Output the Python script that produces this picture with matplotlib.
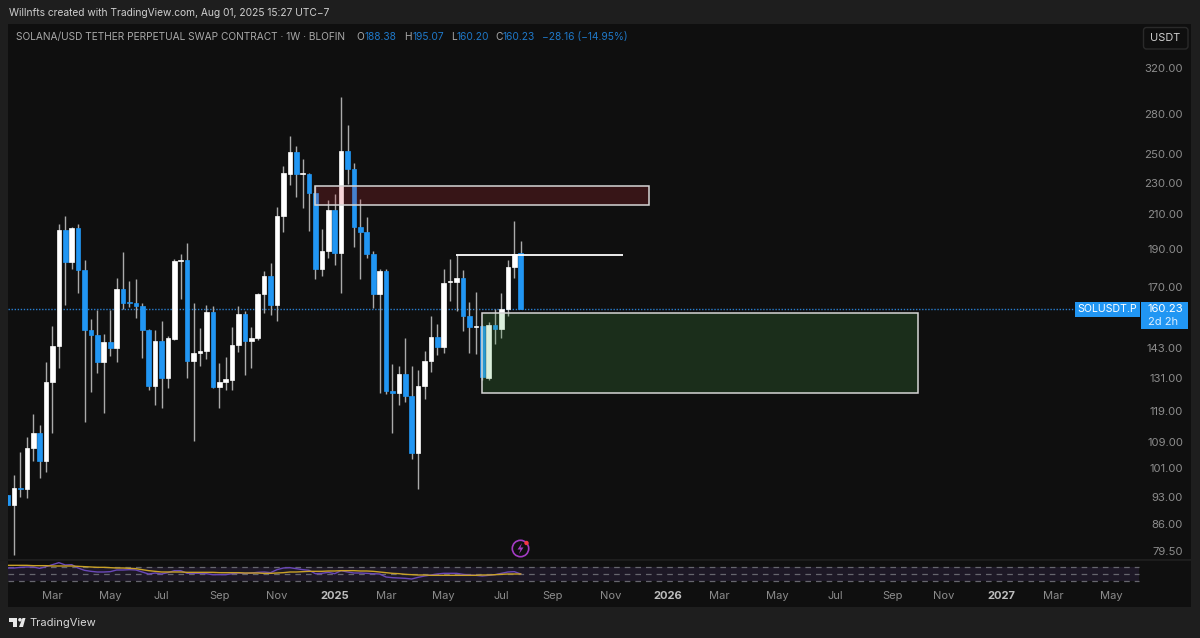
import numpy as np
import matplotlib
matplotlib.use("Agg")
import matplotlib.pyplot as plt
from matplotlib.patches import Rectangle, FancyBboxPatch, Circle, Polygon

plt.rcParams['font.family'] = ['Inter', 'DejaVu Sans']

# weekly candles
opens = [93.7,91.1,95.8,95.5,107.4,112.1,103.4,130.0,144.2,201.4,183.5,202.2,179.3,151.0,148.5,137.7,145.6,143.2,169.6,163.5,162.9,161.8,151.0,128.3,146.3,131.3,147.1,184.2,184.4,138.1,141.0,142.1,158.7,128.1,130.0,130.8,144.4,158.1,146.0,147.4,167.3,176.2,162.1,209.5,236.4,251.9,236.2,236.4,224.1,180.0,189.6,213.1,188.1,252.4,239.9,203.1,200.0,187.8,167.6,178.6,126.5,125.9,132.9,124.7,105.9,128.3,137.9,148.0,143.8,173.0,173.0,175.5,157.3,152.1,152.7,131.5,153.0,151.5,160.5,181.0,188.38]
closes = [91.1,95.8,95.5,107.4,112.1,103.4,130.0,144.2,201.4,183.5,202.4,179.3,151.0,148.5,137.7,145.6,143.2,169.6,163.0,162.9,161.5,151.0,128.3,146.3,131.3,147.4,184.0,184.5,138.1,141.2,142.1,158.7,128.2,130.0,131.1,144.4,158.1,146.0,147.4,167.3,176.2,162.1,209.5,236.9,251.9,236.4,236.9,224.1,180.0,189.6,213.1,188.1,252.4,239.9,203.1,200.0,187.8,167.6,178.6,126.4,125.9,132.9,124.7,105.9,128.3,137.9,148.0,143.8,172.9,173.5,175.5,157.3,152.1,152.7,131.6,153.0,151.5,160.5,181.0,187.9,160.23]
highs = [93.7,99.3,106.2,110.7,118.6,114.7,137.7,152.6,204.7,209.7,203.1,204.5,184.5,155.8,159.8,149.0,159.8,175.5,188.7,173.7,175.0,162.9,151.5,151.0,154.8,148.2,185.1,187.8,193.6,163.3,151.8,162.1,161.6,137.3,139.7,152.3,161.6,159.5,152.1,167.8,178.9,182.9,215.0,242.0,263.8,256.3,246.6,237.1,228.4,201.6,219.4,223.0,295.2,272.3,244.3,219.8,208.9,189.2,179.8,179.6,136.6,136.0,147.4,136.2,134.3,142.0,156.9,153.7,180.0,184.9,187.2,179.1,163.5,168.3,153.0,154.6,160.1,168.0,184.5,206.3,195.07]
lows = [91.1,78.9,93.3,93.1,103.4,98.5,100.3,112.0,135.4,162.2,179.6,168.0,115.6,126.3,133.4,118.9,139.9,137.7,160.5,161.0,156.4,139.3,127.0,121.6,120.6,127.5,146.5,165.1,131.2,109.5,136.0,138.6,127.5,120.5,126.8,127.0,141.7,132.6,135.3,146.5,158.5,157.5,154.8,200.2,228.8,221.5,214.6,200.6,174.9,176.1,185.8,181.9,168.0,229.5,191.8,174.9,185.8,160.9,125.7,125.4,112.2,121.7,122.7,103.9,95.3,123.5,133.8,140.2,141.3,163.8,159.5,150.5,141.3,140.6,130.6,130.6,144.7,147.5,157.0,175.4,160.20]

rsi = [68,68,70,71,71,67,72,78,84,77,78,68,61,58,56,56,57,62,62,63,62,56,50,53,50,54,60,60,52,52,52,51,48,48,48,51,53,52,53,55,56,54,63,68,69,66,63,61,51,52,55,51,60,56,53,53,52,51,50,41,39,38,37,35,40,44,47,50,52,52,52,49,47,46,44,46,48,52,56,57,50]
rsi_ma = [76,76,76,76,75,75,75,74,74,74,74,73,72,71,70,70,69,68,68,67,66,63,60,58,56,56,56,56,55,55,55,55,55,54,54,54,54,53,53,53,52,52,53,54,56,56,57,58,58,58,59,59,60,60,60,59,59,58,56,54,52,51,49,48,47,47,46,46,46,46,46,46,46,46,47,47,48,49,50,50,50]

price_ticks = [320, 280, 250, 230, 210, 190, 170, 143, 131, 119, 109, 101, 93, 86, 79.5]
last_price = 160.23

# (bar index, label) for the time axis
month_bars = [7, 16, 24, 33, 42, 51, 59, 68, 77, 85, 94, 103, 111, 120, 129, 138, 146, 155, 163, 172]
month_labels = ['Mar', 'May', 'Jul', 'Sep', 'Nov', '2025', 'Mar', 'May', 'Jul', 'Sep', 'Nov', '2026', 'Mar', 'May', 'Jul', 'Sep', 'Nov', '2027', 'Mar', 'May']

# drawn zones: bar from, bar to, price low, price high
supply_zone = (47.93, 100.0, 216.2, 228.4)
demand_zone = (73.97, 141.9, 125.8, 158.6)
level_line = (69.9, 95.95, 187.5)

W, H = 1200, 638
BG = '#1e1e1e'
PANEL = '#0f0f0f'
BLUE = '#2196f3'
GREY = '#8c8c8c'

fig = plt.figure(figsize=(W / 100, H / 100), dpi=100, facecolor=BG)


def pixel_axes(left, top, right, bottom):
    return fig.add_axes([left / W, 1 - bottom / H, (right - left) / W, (bottom - top) / H])


# x limits shared by both panes
bar_lim = (0.0645, 184.5)

ax = pixel_axes(8, 24, 1191, 559)
ax.set_facecolor(PANEL)
ax.set_yscale('log')
ax.set_xlim(*bar_lim)
ax.set_ylim(78.0, 364.3)
for s in ax.spines.values():
    s.set_visible(False)
ax.set_xticks([])
ax.set_yticks([])
ax.minorticks_off()

bars = np.arange(len(opens))
opens = np.array(opens)
closes = np.array(closes)
is_up = closes >= opens
colors = np.where(is_up, 'white', BLUE)
ax.vlines(bars, lows, highs, color='#aaaaaa', lw=1.0, zorder=2)
ax.bar(bars, np.abs(closes - opens), bottom=np.minimum(opens, closes), width=0.72,
       color=colors, edgecolor=colors, linewidth=0.5, zorder=3)

ax.axhline(last_price, xmax=(1074 - 8) / (1191 - 8), color='#2a7fd0', lw=1.0, ls=(0, (1, 1.2)), zorder=1)

for zone, fill in ((supply_zone, '#d8303c'), (demand_zone, '#4caf50')):
    x0, x1, p0, p1 = zone
    ax.add_patch(Rectangle((x0, p0), x1 - x0, p1 - p0, facecolor=fill, alpha=0.2, edgecolor='none', zorder=4))
    ax.add_patch(Rectangle((x0, p0), x1 - x0, p1 - p0, facecolor='none', edgecolor='#d6d6d6', lw=1.1, zorder=5))
ax.plot(level_line[:2], [level_line[2]] * 2, color='white', lw=1.3, zorder=5, solid_capstyle='butt')

# RSI pane
ax2 = pixel_axes(8, 561, 1191, 607)
ax2.set_facecolor(PANEL)
ax2.set_xlim(*bar_lim)
ax2.set_ylim(-49, 89)
for s in ax2.spines.values():
    s.set_visible(False)
ax2.set_yticks([])
ax2.set_xticks([])
band_end = 1 + (1139 - 14) / 6.414
ax2.fill_between([bar_lim[0], band_end], 30, 70, color='#7e57c2', alpha=0.13, lw=0)
for lvl in (70, 50, 30):
    ax2.plot([bar_lim[0], band_end], [lvl, lvl], color='#66666e', lw=0.9, ls=(0, (4.5, 4)))
ax2.plot(bars, rsi, color='#6a48b8', lw=1.0)
ax2.plot(bars, rsi_ma, color='#c9a227', lw=1.0)

for b, lab in zip(month_bars, month_labels):
    year = lab.isdigit()
    ax2.text(b, -16, lab, ha='center', va='center', fontsize=8.0,
             color='#bdbdbd' if year else GREY, fontweight='bold' if year else 'normal')

# everything around the chart, in picture pixels
top = fig.add_axes([0, 0, 1, 1], facecolor='none')
top.set_xlim(0, W)
top.set_ylim(H, 0)
top.axis('off')

top.add_patch(Rectangle((0, 559.5), 1191, 1.6, facecolor='#1c1c1c', edgecolor='none'))

top.text(9, 13.5, 'Willnfts created with TradingView.com, Aug 01, 2025 15:27 UTC\u22127', fontsize=7.35, color='#cfcfcf', va='center')
top.text(16, 37, 'SOLANA/USD TETHER PERPETUAL SWAP CONTRACT \u00b7 1W \u00b7 BLOFIN', fontsize=7.3, color='#a8a8a8', va='center')

ohlc = [(356.7, 'O', False), (365, '188.38', True), (404, 'H', False), (412.7, '195.07', True),
        (450.7, 'L', False), (456.7, '160.20', True), (495, 'C', False), (502.7, '160.23', True),
        (541.7, '\u221228.16 (\u221214.95%)', True)]
for x, t, is_val in ohlc:
    top.text(x, 37, t, fontsize=7.35, color='#1f78c8' if is_val else '#a8a8a8', va='center')

top.add_patch(FancyBboxPatch((1143.5, 27.5), 44.5, 21.5, boxstyle='round,pad=0,rounding_size=3',
                             facecolor=PANEL, edgecolor='#2a2a2a', lw=1))
top.text(1165, 38, 'USDT', fontsize=7.9, color='#d0d0d0', ha='center', va='center')


def price_px(p):
    return 69 + 347 * np.log(320 / p)


for p in price_ticks:
    top.text(1183, price_px(p), f'{p:.2f}', fontsize=8.2, color=GREY, ha='right', va='center')

top.add_patch(Rectangle((1074.5, 302), 65, 15, facecolor=BLUE, edgecolor='none'))
top.add_patch(Rectangle((1140.5, 302), 47, 27, facecolor=BLUE, edgecolor='none'))
top.text(1107, 309.5, 'SOLUSDT.P', fontsize=7.6, color='white', ha='center', va='center')
top.text(1183, 309.5, f'{last_price:.2f}', fontsize=8.2, color='white', ha='right', va='center')
top.text(1147.5, 322, '2d 2h', fontsize=8, color='#dbeeff', ha='left', va='center')

# lightning badge
top.add_patch(Circle((520.5, 548.5), 8.2, facecolor='none', edgecolor='#a33bc4', lw=1.2))
top.add_patch(Polygon([(522, 543), (517.5, 549.5), (520.5, 549.5), (519, 554), (523.5, 547.5), (520.5, 547.5)],
                      closed=True, facecolor='#a33bc4', edgecolor='none'))
top.add_patch(Circle((526.5, 543), 2.2, facecolor='#f23645', edgecolor='none'))

# TradingView logo
top.add_patch(Polygon([(9, 618), (17, 618), (17, 627), (13, 627), (13, 621.5), (9, 621.5)], closed=True, facecolor='#e8e8e8', edgecolor='none'))
top.add_patch(Circle((20, 619.8), 1.8, facecolor='#e8e8e8', edgecolor='none'))
top.add_patch(Polygon([(19, 627), (22.5, 618), (25.5, 618), (23, 627)], closed=True, facecolor='#e8e8e8', edgecolor='none'))
top.text(29.5, 623, 'TradingView', fontsize=8.0, color='#d8d8d8', va='center')

fig.savefig('out.png', dpi=100, facecolor=BG)
